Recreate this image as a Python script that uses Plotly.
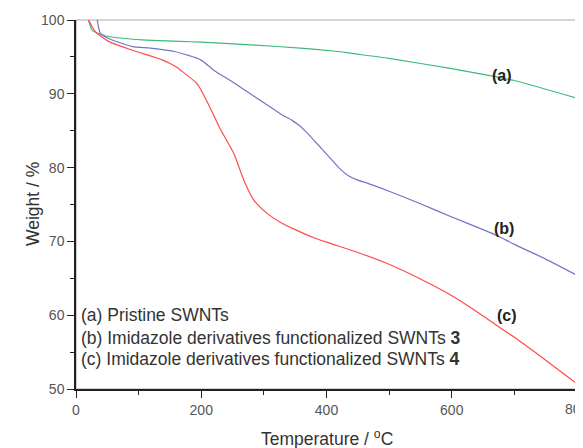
import plotly.graph_objects as go

# Data
temp_a = [20, 26, 42, 50, 106, 167, 200, 286, 358, 422, 438, 500, 600, 672, 700, 800]
weight_a = [100, 98.6, 98.0, 97.8, 97.3, 97.1, 97.0, 96.6, 96.2, 95.7, 95.5, 94.8, 93.4, 92.3, 91.8, 89.4]

temp_b = [34, 36, 39, 52, 90, 119, 159, 199, 220, 250, 273, 300, 326, 345, 358, 369, 380, 395, 411, 422,
          435, 450, 465, 500, 550, 600, 650, 672, 700, 750, 800]
weight_b = [100, 99.0, 98.2, 97.5, 96.4, 96.2, 95.7, 94.6, 93.2, 91.6, 90.3, 88.8, 87.3, 86.4, 85.6, 84.7, 83.7, 82.3, 80.8, 79.8,
            78.9, 78.3, 77.9, 76.8, 75.1, 73.3, 71.6, 70.8, 69.6, 67.6, 65.4]

temp_c = [20, 31, 52, 90, 137.5, 159, 167, 193, 209, 230, 252, 268, 284, 305, 326, 350, 380, 400, 450, 497,
          550, 603, 650, 672, 700, 750, 800]
weight_c = [100, 98.4, 97.1, 95.9, 94.6, 93.7, 93.2, 91.4, 89.0, 85.3, 81.9, 78.3, 75.6, 73.8, 72.6, 71.6, 70.5, 69.9, 68.5, 67.0,
            64.9, 62.5, 59.9, 58.6, 57.0, 53.9, 50.7]

legend_lines = [
    "(a) Pristine SWNTs",
    "(b) Imidazole derivatives functionalized SWNTs <b>3</b>",
    "(c) Imidazole derivatives functionalized SWNTs <b>4</b>",
]
curve_labels = ["(a)", "(b)", "(c)"]
label_pos_t = [680, 683, 688]
label_pos_w = [92.5, 71.7, 60.0]
legend_w = [60.0, 56.95, 54.0]

x_ticks = [0, 200, 400, 600]
x_edge_tick = 800
y_ticks = [50, 60, 70, 80, 90, 100]

font = "Liberation Sans, Arial, sans-serif"

fig = go.Figure()
fig.add_trace(go.Scatter(x=temp_a, y=weight_a, mode="lines", line_shape="spline",
                         line=dict(color="#3cba7a", width=1.2, smoothing=0.6), showlegend=False))
fig.add_trace(go.Scatter(x=temp_b, y=weight_b, mode="lines", line_shape="spline",
                         line=dict(color="#7474c4", width=1.2, smoothing=0.6), showlegend=False))
fig.add_trace(go.Scatter(x=temp_c, y=weight_c, mode="lines", line_shape="spline",
                         line=dict(color="#ff4a4a", width=1.2, smoothing=0.6), showlegend=False))

for lab, t, w in zip(curve_labels, label_pos_t, label_pos_w):
    fig.add_annotation(x=t, y=w, text="<b>" + lab + "</b>", showarrow=False,
                       font=dict(family=font, size=16, color="#222"))

for txt, w in zip(legend_lines, legend_w):
    fig.add_annotation(x=5, y=w, text=txt, showarrow=False, xanchor="left",
                       font=dict(family=font, size=17.5, color="#333"))

# last x tick label, partly cut by the right edge as in the original
fig.add_annotation(x=x_edge_tick, xref="x", yref="paper", y=0, yshift=-20, yanchor="middle",
                   text=str(x_edge_tick), showarrow=False,
                   font=dict(family=font, size=14, color="#555"))

# axis titles
fig.add_annotation(xref="paper", yref="paper", x=0.5, y=-49 / 369, yanchor="middle",
                   text="Temperature / <sup>o</sup>C", showarrow=False,
                   font=dict(family=font, size=17.5, color="#333"))
fig.add_annotation(xref="paper", yref="paper", x=0, y=0.5, xshift=-55.5, textangle=-90,
                   text="Weight / %", showarrow=False,
                   font=dict(family=font, size=17.5, color="#333"))

fig.add_shape(type="rect", xref="paper", yref="paper", x0=0, y0=0, x1=1, y1=1,
              line=dict(color="#aaaaaa", width=1.2), layer="below")

# the page body adds an 8px offset, so the figure is 8px smaller on each axis
fig.update_layout(
    width=575, height=440,
    margin=dict(l=67.5, r=6, t=12, b=59),
    plot_bgcolor="white", paper_bgcolor="white",
    font=dict(family=font, color="#444"),
    xaxis=dict(range=[0, 800], tickvals=x_ticks + [x_edge_tick], ticktext=[str(v) for v in x_ticks] + [""],
               showgrid=False, zeroline=False, automargin=False,
               showline=True, linecolor="#222", linewidth=1.5,
               ticks="outside", ticklen=7, tickcolor="#222",
               minor=dict(dtick=100, ticks="outside", ticklen=4, tickcolor="#222"),
               tickfont=dict(size=14, color="#555")),
    yaxis=dict(range=[50, 100], tickvals=y_ticks, showgrid=False, zeroline=False, automargin=False,
               showline=True, linecolor="#222", linewidth=1.5,
               ticks="outside", ticklen=7, tickcolor="#222",
               minor=dict(dtick=5, ticks="outside", ticklen=4, tickcolor="#222"),
               tickfont=dict(size=14, color="#555")),
)

fig.write_html("out.html")
